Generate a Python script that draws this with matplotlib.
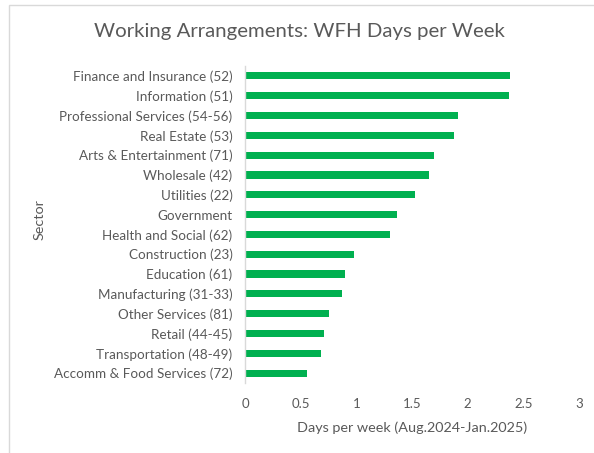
import matplotlib.pyplot as plt
import matplotlib.patches as mpatches

plt.rcParams['font.family'] = ['Lato', 'DejaVu Sans']

sectors = [
    "Finance and Insurance (52)",
    "Information (51)",
    "Professional Services (54-56)",
    "Real Estate (53)",
    "Arts & Entertainment (71)",
    "Wholesale (42)",
    "Utilities (22)",
    "Government",
    "Health and Social (62)",
    "Construction (23)",
    "Education (61)",
    "Manufacturing (31-33)",
    "Other Services (81)",
    "Retail (44-45)",
    "Transportation (48-49)",
    "Accomm & Food Services (72)",
]
wfh_days = [2.38, 2.37, 1.915, 1.875, 1.70, 1.655, 1.53, 1.365, 1.30,
            0.98, 0.90, 0.87, 0.75, 0.71, 0.68, 0.56]
xticks = [0, 0.5, 1, 1.5, 2, 2.5, 3]

text_color = '#595959'

fig = plt.figure(figsize=(5.94, 4.53), dpi=100)
ax = fig.add_axes([245/594, 1 - 383/453, 334/594, 317/453])

# chart border (clipped at right and bottom like the reference)
border = mpatches.Rectangle((9/594, -0.05), 1.2, 1 - 5/453 + 0.05,
                            transform=fig.transFigure, fill=False,
                            edgecolor='#d9d9d9', linewidth=1)
fig.patches.append(border)

ypos = list(range(len(sectors)))
ax.barh(ypos, wfh_days, height=0.36, color='#00B050')

ax.set_ylim(len(sectors) - 0.5, -0.5)
ax.set_xlim(0, 3)
ax.set_yticks(ypos)
ax.set_yticklabels(sectors)
ax.set_xticks(xticks)
ax.set_xticklabels([f"{t:g}" for t in xticks])

for side in ['top', 'right', 'bottom']:
    ax.spines[side].set_visible(False)
ax.spines['left'].set_color('#d9d9d9')
ax.spines['left'].set_linewidth(1)

ax.tick_params(axis='y', length=0, pad=9, labelsize=9.7, labelcolor=text_color)
ax.tick_params(axis='x', length=0, pad=11, labelsize=9.5, labelcolor=text_color)

ax.set_xlabel("Days per week (Aug.2024-Jan.2025)", fontsize=10.4,
              color=text_color, labelpad=8)
fig.text(40/594, 1 - 220/453, "Sector", rotation=90, ha='center', va='center',
         fontsize=10.4, color=text_color)
fig.text(299/594, 1 - 32/453, "Working Arrangements: WFH Days per Week",
         ha='center', va='center', fontsize=14.7, color=text_color)

plt.savefig("out.png", dpi=100)
